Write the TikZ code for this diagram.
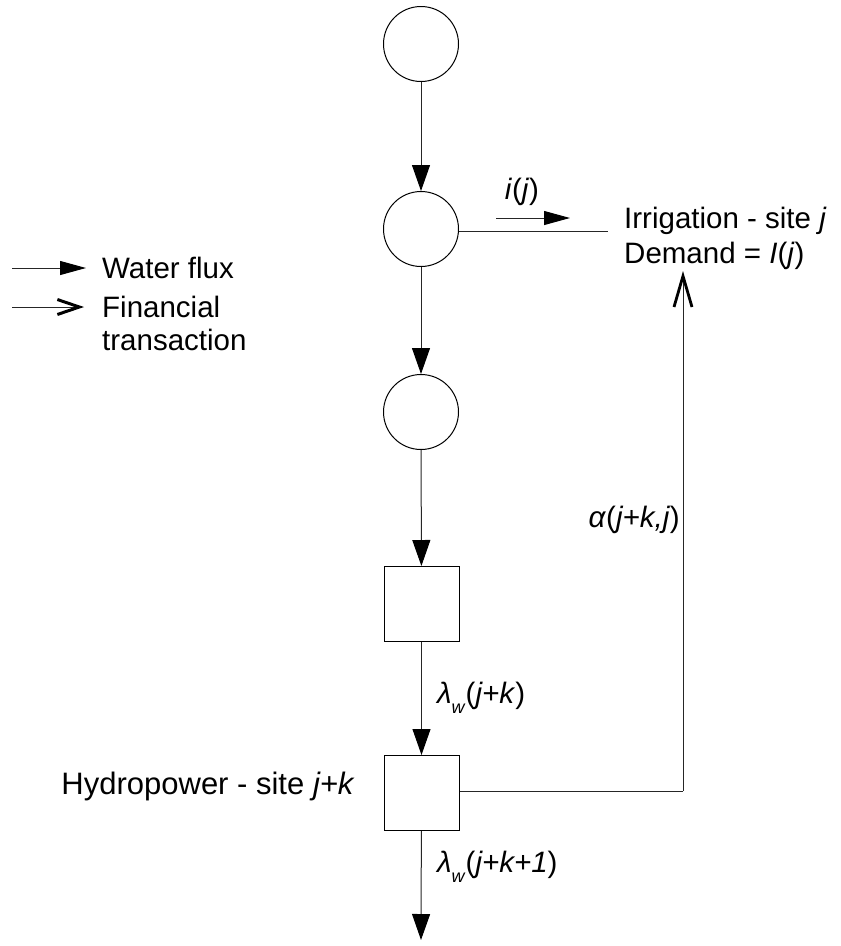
\documentclass[tikz,border=0pt]{standalone}
\usepackage{fontspec}
\setmainfont{Liberation Sans}
\usetikzlibrary{arrows.meta}
\begin{document}
\begin{tikzpicture}[x=1pt,y=-1pt,
  lbl/.style={font=\fontsize{29.5}{35}\selectfont, inner sep=0pt},
  circ/.style={draw=black, line width=1pt, circle, minimum size=75pt, inner sep=0pt},
  sq/.style={draw=black, line width=1pt, rectangle, minimum size=75pt, inner sep=0pt},
  link/.style={draw=black!85, line width=1pt},
  flow/.style={link, -{Triangle[length=26pt,width=18pt,color=black]}},
  smallflow/.style={link, -{Triangle[length=26pt,width=14pt,color=black]}},
  cash/.style={link, -{Straight Barb[length=22pt,width=15pt,line width=3pt,color=black]}},
  bigcash/.style={link, -{Straight Barb[length=31pt,width=18pt,line width=2.8pt,color=black]}}]
\useasboundingbox (0,0) rectangle (841,946);
% nodes
\node[circ] (c1) at (421,44) {};
\node[circ] (c2) at (421,229) {};
\node[circ] (c3) at (421,412) {};
\node[sq] (s1) at (421.5,604) {};
\node[sq] (s2) at (421.5,793) {};
\coordinate (bot) at (421,940);
\coordinate (irrend) at (608,231);
\coordinate (ia) at (496,218);
\coordinate (ib) at (570,218);
\coordinate (corner) at (683,791);
\coordinate (dtip) at (683,271);
% connectors
\draw[flow] (c1) -- (c2);
\draw[flow] (c2) -- (c3);
\draw[flow] (c3) -- (s1);
\draw[flow] (s1) -- (s2);
\draw[flow] (s2) -- (bot);
\draw[link] (c2.east |- irrend) -- (irrend);
\draw[smallflow] (ia) -- (ib);
\draw[link] (s2.east |- corner) -- (corner);
\draw[bigcash] (corner) -- (dtip);
% labels
\node[lbl, anchor=base] (ij) at (522,199) {\textit{i}(\textit{j})};
\node[lbl, anchor=base west] (irr1) at (624,228) {Irrigation - site \textit{j}};
\node[lbl, anchor=base west] (irr2) at (624,263) {Demand = \textit{I}(\textit{j})};
\node[lbl, anchor=base east] (alpha) at (680,527) {\textit{α}(\textit{j+k,j})};
\node[lbl, anchor=base west] (lw1) at (437,703) {\textit{λ}\raisebox{-0.35em}{\fontsize{18}{18}\selectfont\textit{w}}(\textit{j+k})};
\node[lbl, anchor=base west] (lw2) at (437,872) {\textit{λ}\raisebox{-0.35em}{\fontsize{18}{18}\selectfont\textit{w}}(\textit{j+k+1})};
\node[lbl, font=\fontsize{31}{35}\selectfont, anchor=base east] (hyd) at (355,794) {Hydropower - site \textit{j+k}};
% legend
\coordinate (wa) at (12,268);
\coordinate (wb) at (86,268);
\coordinate (fa) at (12,307);
\coordinate (fb) at (84,307);
\draw[smallflow] (wa) -- (wb);
\draw[cash] (fa) -- (fb);
\node[lbl, anchor=base west] (wf) at (102,278) {Water flux};
\node[lbl, anchor=base west] (ft1) at (102,317) {Financial};
\node[lbl, anchor=base west] (ft2) at (102,350) {transaction};
\end{tikzpicture}
\end{document}
